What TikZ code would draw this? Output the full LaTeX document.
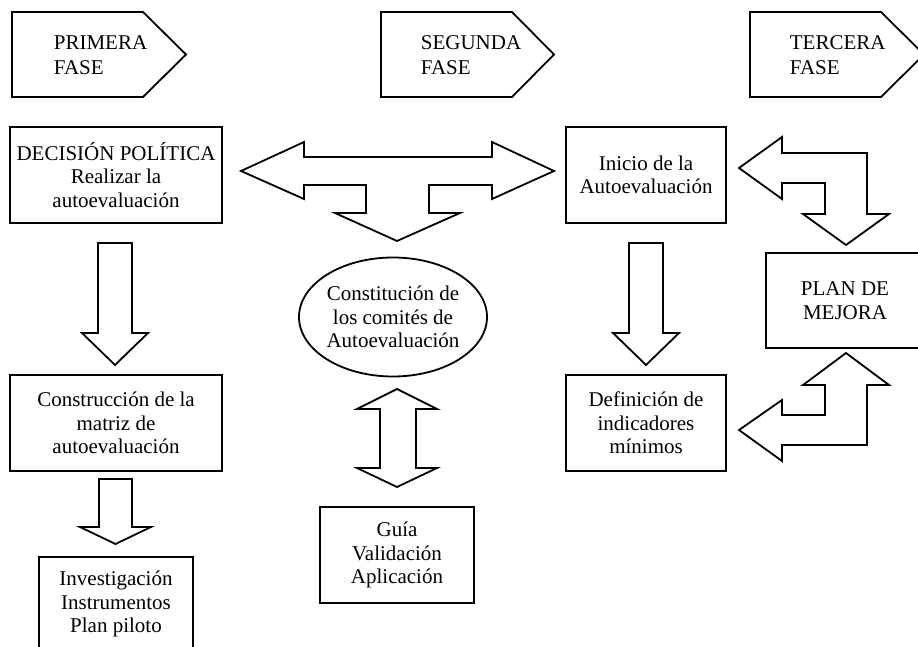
\documentclass[tikz,border=0pt]{standalone}
\usepackage{fontspec}
\setmainfont{Liberation Serif}
\usetikzlibrary{shapes.geometric}
\begin{document}
\begin{tikzpicture}[x=1pt,y=-1pt, line width=1.8pt, line join=miter,
  box/.style={draw, rectangle, inner sep=0pt, align=center, font=\fontsize{21}{23.5}\selectfont},
  oval/.style={draw, ellipse, inner sep=0pt, align=center, font=\fontsize{21}{23.5}\selectfont},
  ftxt/.style={align=left, font=\fontsize{21}{24.5}\selectfont, inner sep=0pt, anchor=west},
  blk/.style={draw, fill=white, line width=1.8pt}]
\useasboundingbox (0,0) rectangle (918,647);
\clip (0,0) rectangle (918,647);

% phase pentagons
\draw[blk] (12,12) -- (143,12) -- (186,54.5) -- (143,97) -- (12,97) -- cycle;
\node[ftxt] (f1) at (53,55) {PRIMERA\\FASE};
\draw[blk] (381,12) -- (512,12) -- (554,54.5) -- (512,97) -- (381,97) -- cycle;
\node[ftxt] (f2) at (420,55) {SEGUNDA\\FASE};
\draw[blk] (750,12) -- (881,12) -- (924,54.5) -- (881,97) -- (750,97) -- cycle;
\node[ftxt] (f3) at (789,55) {TERCERA\\FASE};

% boxes
\node[box, minimum width=212pt, minimum height=96pt] (dec) at (116,175) {DECISIÓN POLÍTICA\\Realizar la\\autoevaluación};
\node[box, minimum width=212pt, minimum height=96pt] (con) at (116,423) {Construcción de la\\matriz de\\autoevaluación};
\node[box, minimum width=154pt, minimum height=94pt] (inv) at (116,604) {Investigación\\Instrumentos\\Plan piloto};
\node[oval, minimum width=178pt, minimum height=119pt] (com) at (393,317) {Constitución de\\los comités de\\Autoevaluación};
\node[box, minimum width=154pt, minimum height=96pt] (gui) at (397,555) {Guía\\Validación\\Aplicación};
\node[box, minimum width=160pt, minimum height=96pt] (ini) at (646,175) {Inicio de la\\Autoevaluación};
\node[box, minimum width=160pt, minimum height=96pt] (def) at (646,423) {Definición de\\indicadores\\mínimos};
\node[box, minimum width=158pt, minimum height=95pt] (plan) at (845,300.5) {PLAN DE\\MEJORA};

% block arrows: left column
\draw[blk] (98,243) -- (132,243) -- (132,333) -- (148,333) -- (115,365) -- (82,333) -- (98,333) -- cycle;
\draw[blk] (99,479) -- (132,479) -- (132,527) -- (151,527) -- (115.5,544) -- (80,527) -- (99,527) -- cycle;
% right column down arrow
\draw[blk] (629,243) -- (663,243) -- (663,333) -- (679,333) -- (646,365) -- (613,333) -- (629,333) -- cycle;
% middle vertical double arrow
\draw[blk] (397,389) -- (437,409) -- (416,409) -- (416,468) -- (437,468) -- (397,487)
  -- (357,468) -- (380,468) -- (380,409) -- (357,409) -- cycle;
% T-shaped arrow
\draw[blk] (241,171) -- (304,142) -- (304,157) -- (492,157) -- (492,142) -- (554,171)
  -- (492,199) -- (492,185) -- (429,185) -- (429,213) -- (460,213) -- (397,241)
  -- (335,213) -- (366,213) -- (366,185) -- (304,185) -- (304,199) -- cycle;
% upper L arrow
\draw[blk] (739,168) -- (782,137) -- (782,153) -- (867,153) -- (867,214) -- (889,214)
  -- (846,245) -- (803,214) -- (825,214) -- (825,183) -- (782,183) -- (782,199) -- cycle;
% lower L arrow
\draw[blk] (846,353) -- (889,385) -- (867,385) -- (867,445) -- (782,445) -- (782,461)
  -- (739,430) -- (782,400) -- (782,415) -- (825,415) -- (825,385) -- (803,385) -- cycle;
\end{tikzpicture}
\end{document}
